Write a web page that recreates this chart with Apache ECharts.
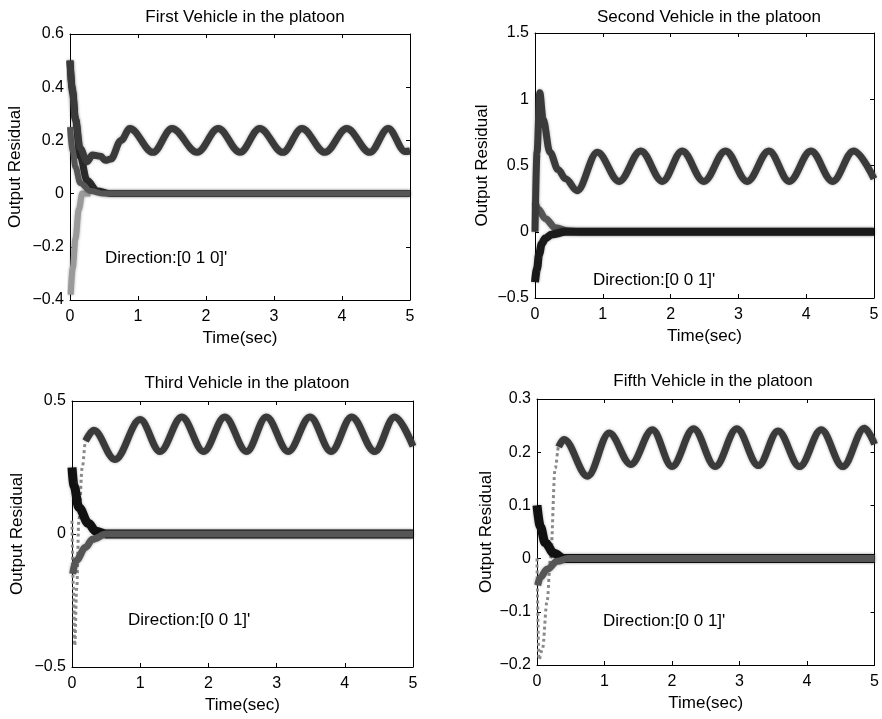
<!DOCTYPE html>
<html>
<head>
<meta charset="utf-8">
<script src="https://cdn.jsdelivr.net/npm/echarts@6/dist/echarts.min.js"></script>
<style>
html,body{margin:0;padding:0;background:#fff;}
#main{width:882px;height:719px;}
</style>
</head>
<body>
<div id="main"></div>
<script>
// ---- data ----
// First vehicle
var aOscT = [0, 0.03, 0.08, 0.15, 0.25, 0.33, 0.45, 0.52, 0.6, 0.75, 0.88, 1.22, 1.5, 1.87, 2.18, 2.5, 2.79, 3.13, 3.41, 3.75, 4.07, 4.41, 4.68, 4.93, 5];
var aOscV = [0.5, 0.4, 0.28, 0.17, 0.12, 0.145, 0.14, 0.125, 0.13, 0.2, 0.245, 0.155, 0.245, 0.155, 0.245, 0.155, 0.245, 0.155, 0.245, 0.155, 0.245, 0.155, 0.245, 0.158, 0.16];
var aDecT = [0, 0.04, 0.08, 0.15, 0.25, 0.4, 0.6, 5];
var aDecV = [0.5, 0.38, 0.28, 0.14, 0.05, 0.01, 0, 0];
var aDec2T = [0, 0.04, 0.08, 0.15, 0.3, 0.5, 5];
var aDec2V = [0.25, 0.16, 0.1, 0.04, 0.01, 0, 0];
var aNegT = [0.01, 0.04, 0.08, 0.13, 0.18, 0.3];
var aNegV = [-0.38, -0.28, -0.17, -0.06, 0, 0];

// Second vehicle
var bOscT = [0, 0.03, 0.07, 0.12, 0.22, 0.34, 0.45, 0.62, 0.92, 1.24, 1.56, 1.88, 2.17, 2.49, 2.81, 3.13, 3.45, 3.75, 4.07, 4.39, 4.7, 5];
var bOscV = [0, 0.6, 1.05, 0.85, 0.6, 0.47, 0.4, 0.31, 0.6, 0.38, 0.61, 0.38, 0.61, 0.38, 0.61, 0.38, 0.61, 0.38, 0.61, 0.38, 0.61, 0.4];
var bDecT = [0, 0.05, 0.15, 0.3, 0.5, 0.7, 5];
var bDecV = [0.22, 0.17, 0.1, 0.03, 0.005, 0, 0];
var bNegT = [0, 0.03, 0.06, 0.1, 0.15, 0.25, 0.45, 5];
var bNegV = [-0.38, -0.28, -0.17, -0.09, -0.05, -0.02, 0, 0];

// Third vehicle
var cOscT = [0, 0.02, 0.04, 0.07, 0.1, 0.15, 0.2, 0.32, 0.63, 1.0, 1.29, 1.61, 1.93, 2.24, 2.56, 2.85, 3.17, 3.49, 3.8, 4.1, 4.44, 4.73, 5];
var cOscV = [0.05, -0.2, -0.42, -0.2, 0.05, 0.25, 0.35, 0.39, 0.28, 0.43, 0.31, 0.44, 0.31, 0.44, 0.31, 0.44, 0.31, 0.44, 0.31, 0.44, 0.31, 0.44, 0.33];
var cDecT = [0, 0.03, 0.1, 0.24, 0.35, 0.5, 5];
var cDecV = [0.25, 0.18, 0.1, 0.04, 0.01, 0, 0];
var cNegT = [0.01, 0.06, 0.2, 0.3, 0.5, 5];
var cNegV = [-0.15, -0.1, -0.05, -0.02, 0, 0];

// Fifth vehicle
var dOscT = [0, 0.03, 0.08, 0.15, 0.2, 0.27, 0.32, 0.4, 0.75, 1.07, 1.39, 1.71, 2.0, 2.32, 2.64, 2.96, 3.28, 3.57, 3.89, 4.21, 4.53, 4.85, 5];
var dOscV = [0, -0.19, -0.17, -0.08, 0, 0.17, 0.21, 0.224, 0.155, 0.236, 0.177, 0.242, 0.173, 0.244, 0.173, 0.244, 0.175, 0.24, 0.173, 0.242, 0.173, 0.245, 0.215];
var dDecT = [0, 0.05, 0.12, 0.25, 0.4, 5];
var dDecV = [0.1, 0.06, 0.03, 0.01, 0, 0];
var dNegT = [0.01, 0.05, 0.15, 0.3, 0.45, 5];
var dNegV = [-0.05, -0.035, -0.02, -0.005, 0, 0];

var titles = ['First Vehicle in the platoon', 'Second Vehicle in the platoon', 'Third Vehicle in the platoon', 'Fifth Vehicle in the platoon'];
var directions = ["Direction:[0 1 0]'", "Direction:[0 0 1]'", "Direction:[0 0 1]'", "Direction:[0 0 1]'"];
var yMin = [-0.4, -0.5, -0.5, -0.2];
var yMax = [0.6, 1.5, 0.5, 0.3];
var yStep = [0.2, 0.5, 0.5, 0.1];

var FONT = 'Liberation Sans';
var myChart = echarts.init(document.getElementById('main'));

function pairs(t, v){
	var out = [];
	for(var i=0;i<t.length;i++){
		out.push([t[i], v[i]]);
	}
	return out;
}
function fmt(v){
	var s = String(Math.round(v*100)/100);
	return s.replace('-', '\u2212');
}

var grids = [
	{left:70, top:34, width:340, height:266},
	{left:535, top:33, width:339, height:265},
	{left:72, top:401, width:341, height:266},
	{left:537, top:399, width:339, height:266}
];
var titlePos = [[240, 4], [704, 4], [242, 370], [708, 368]];
var dirPos = [[100, 245], [588, 267], [123, 607], [598, 608]];
var yNameGap = [46, 44, 46, 42];

var xAxes = [], yAxes = [], titleList = [];
for(var i=0;i<4;i++){
	xAxes.push({
		gridIndex:i, type:'value', min:0, max:5, interval:1, position:'bottom',
		name:'Time(sec)', nameLocation:'middle', nameGap:30,
		nameTextStyle:{fontFamily:FONT, fontSize:17, color:'#000'},
		axisLine:{onZero:false, lineStyle:{color:'#000', width:1}},
		axisTick:{inside:true, length:4, lineStyle:{color:'#000'}},
		axisLabel:{fontFamily:FONT, fontSize:16, color:'#000', margin:9},
		splitLine:{show:false}
	});
	yAxes.push({
		gridIndex:i, type:'value', min:yMin[i], max:yMax[i], interval:yStep[i], position:'left',
		name:'Output Residual', nameLocation:'middle', nameGap:yNameGap[i],
		nameTextStyle:{fontFamily:FONT, fontSize:17, color:'#000'},
		axisLine:{onZero:false, lineStyle:{color:'#000', width:1}},
		axisTick:{inside:true, length:4, lineStyle:{color:'#000'}},
		axisLabel:{fontFamily:FONT, fontSize:16, color:'#000', margin:6, formatter:fmt},
		splitLine:{show:false}
	});
	titleList.push({
		text:titles[i], left:titlePos[i][0], top:titlePos[i][1], textAlign:'center',
		textStyle:{fontFamily:FONT, fontSize:17, fontWeight:'normal', color:'#000'}
	});
	titleList.push({
		text:directions[i], left:dirPos[i][0], top:dirPos[i][1],
		textStyle:{fontFamily:FONT, fontSize:17, fontWeight:'normal', color:'#000'}
	});
}
// box: top and right axes with inside ticks, no labels
for(var j=0;j<4;j++){
	xAxes.push({
		gridIndex:j, type:'value', min:0, max:5, interval:1, position:'top',
		axisLine:{onZero:false, lineStyle:{color:'#000', width:1}},
		axisTick:{inside:true, length:4, lineStyle:{color:'#000'}},
		axisLabel:{show:false}, splitLine:{show:false}
	});
	yAxes.push({
		gridIndex:j, type:'value', min:yMin[j], max:yMax[j], interval:yStep[j], position:'right',
		axisLine:{onZero:false, lineStyle:{color:'#000', width:1}},
		axisTick:{inside:true, length:4, lineStyle:{color:'#000'}},
		axisLabel:{show:false}, splitLine:{show:false}
	});
}

function band(idx, t, v, color, width, z){
	return {
		type:'line', xAxisIndex:idx, yAxisIndex:idx, data:pairs(t, v),
		showSymbol:false, smooth:0.35, smoothMonotone:'x', z:z || 2,
		lineStyle:{color:color, width:width, shadowColor:'rgba(0,0,0,0.35)', shadowBlur:3},
		silent:true, animation:false
	};
}
function thin(idx, t, v){
	return {
		type:'line', xAxisIndex:idx, yAxisIndex:idx, data:pairs(t, v),
		showSymbol:false, smooth:0.35, smoothMonotone:'x', z:1,
		lineStyle:{color:'#8a8a8a', width:3, type:'dotted'},
		silent:true, animation:false
	};
}

var series = [
	band(0, aOscT, aOscV, '#3a3a3a', 7, 3),
	band(0, aDecT, aDecV, '#2a2a2a', 7, 2),
	band(0, aDec2T, aDec2V, '#555', 6, 2),
	band(0, aNegT, aNegV, '#9a9a9a', 6, 1),

	band(1, bOscT, bOscV, '#3a3a3a', 7, 3),
	band(1, bDecT, bDecV, '#555', 7, 2),
	band(1, bNegT, bNegV, '#1a1a1a', 8, 2),

	thin(2, cOscT.slice(0, 8), cOscV.slice(0, 8)),
	band(2, cOscT.slice(6), cOscV.slice(6), '#3a3a3a', 7, 3),
	band(2, cDecT, cDecV, '#111', 9, 2),
	band(2, cNegT, cNegV, '#555', 7, 2),

	thin(3, dOscT.slice(0, 8), dOscV.slice(0, 8)),
	band(3, dOscT.slice(6), dOscV.slice(6), '#3a3a3a', 7, 3),
	band(3, dDecT, dDecV, '#111', 9, 2),
	band(3, dNegT, dNegV, '#555', 7, 2)
];

var option = {
	backgroundColor:'#fff',
	animation:false,
	title:titleList,
	grid:grids,
	xAxis:xAxes,
	yAxis:yAxes,
	series:series
};
myChart.setOption(option);
</script>
</body>
</html>
